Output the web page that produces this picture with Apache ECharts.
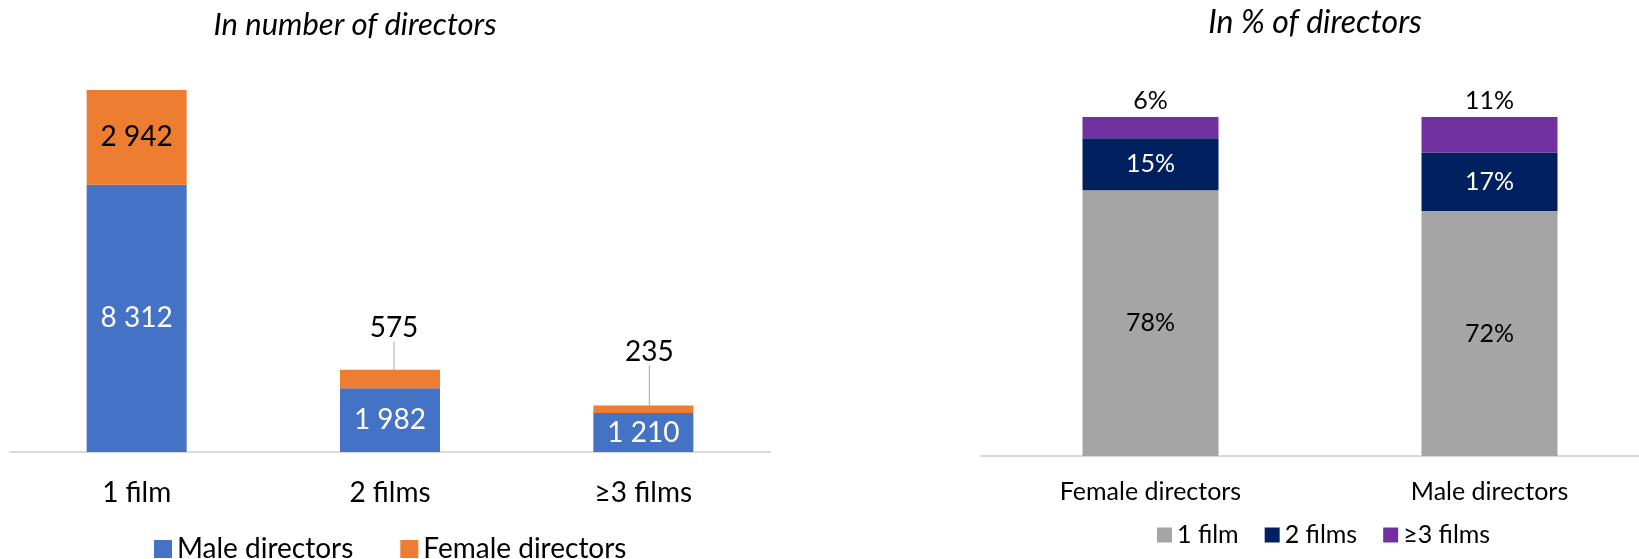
<!DOCTYPE html>
<html>
<head>
<meta charset="utf-8">
<script src="https://cdn.jsdelivr.net/npm/echarts@6/dist/echarts.min.js"></script>
<style>
  html, body { margin: 0; padding: 0; background: #fff; overflow: hidden; }
  /* a little wider than the window: the right axis runs off the edge as in the source */
  #main { width: 1660px; height: 559px; }
</style>
</head>
<body>
<div id="main"></div>
<script>
// left panel: number of directors
const countCategories = ["1 film", "2 films", "≥3 films"];
const maleCounts = [8312, 1982, 1210];
const femaleCounts = [2942, 575, 235];

// right panel: share of directors (%)
const shareCategories = ["Female directors", "Male directors"];
const share1Film = [78.4, 72.3];
const share2Films = [15.3, 17.2];
const share3Films = [6.3, 10.5];

const FONT = "Lato, 'Noto Sans', sans-serif";

// 8312 -> "8 312"
function spaced(v) {
  return String(v).replace(/\B(?=(\d{3})+(?!\d))/g, " ");
}
function pct(p) {
  return Math.round(p.value) + "%";
}

const chart = echarts.init(document.getElementById("main"));
chart.setOption({
  animation: false,
  title: [
    {
      text: "In number of directors",
      left: 350,
      top: 4,
      textAlign: "center",
      textStyle: { fontFamily: FONT, fontStyle: "italic", fontWeight: "normal", fontSize: 31, color: "#000" },
    },
    {
      text: "In % of directors",
      left: 1310,
      top: 2,
      textAlign: "center",
      textStyle: { fontFamily: FONT, fontStyle: "italic", fontWeight: "normal", fontSize: 32, color: "#000" },
    },
  ],
  legend: [
    {
      data: ["Male directors", "Female directors"],
      left: 149,
      top: 529,
      icon: "rect",
      itemWidth: 18,
      itemHeight: 18,
      itemGap: 47,
      textStyle: { fontFamily: FONT, fontSize: 28, color: "#000", lineHeight: 30 },
    },
    {
      data: ["1 film", "2 films", "≥3 films"],
      left: 1152,
      top: 517,
      icon: "rect",
      itemWidth: 15,
      itemHeight: 15,
      itemGap: 26,
      textStyle: { fontFamily: FONT, fontSize: 25, color: "#000", lineHeight: 26 },
    },
  ],
  grid: [
    { left: 10, width: 760, top: 66, bottom: 107 },
    { left: 981, width: 678, top: 117, bottom: 103 },
  ],
  xAxis: [
    {
      type: "category",
      gridIndex: 0,
      data: countCategories,
      axisTick: { show: false },
      axisLine: { lineStyle: { color: "#d9d9d9", width: 2 } },
      axisLabel: { margin: 27, fontFamily: FONT, fontSize: 28, color: "#000" },
    },
    {
      type: "category",
      gridIndex: 1,
      data: shareCategories,
      axisTick: { show: false },
      axisLine: { lineStyle: { color: "#d9d9d9", width: 2 } },
      axisLabel: { margin: 23, fontFamily: FONT, fontSize: 25, color: "#000" },
    },
  ],
  yAxis: [
    { type: "value", gridIndex: 0, min: 0, max: 12000, show: false },
    { type: "value", gridIndex: 1, min: 0, max: 100, show: false },
  ],
  series: [
    {
      name: "Male directors",
      type: "bar",
      stack: "count",
      xAxisIndex: 0,
      yAxisIndex: 0,
      barWidth: 100,
      itemStyle: { color: "#4472c4" },
      label: {
        show: true,
        position: "inside",
        formatter: (p) => spaced(p.value),
        fontFamily: FONT,
        fontSize: 28,
        color: "#fff",
      },
      data: maleCounts,
    },
    {
      name: "Female directors",
      type: "bar",
      stack: "count",
      xAxisIndex: 0,
      yAxisIndex: 0,
      barWidth: 100,
      itemStyle: { color: "#ed7d31" },
      label: {
        show: true,
        position: "inside",
        formatter: (p) => spaced(p.value),
        fontFamily: FONT,
        fontSize: 28,
        color: "#000",
      },
      labelLine: { show: true, lineStyle: { color: "#a6a6a6", width: 1 } },
      // small segments: label lifted above the bar with a leader line
      labelLayout: function (params) {
        if (params.dataIndex === 0) return {};
        const lift = params.dataIndex === 1 ? 42 : 54;
        const cy = params.labelRect.y + params.labelRect.height / 2;
        return { dx: params.dataIndex === 1 ? 4 : 6, dy: params.rect.y - lift - cy };
      },
      data: femaleCounts.map((v, i) => (i === 0 ? { value: v, labelLine: { show: false } } : v)),
    },
    {
      name: "1 film",
      type: "bar",
      stack: "share",
      xAxisIndex: 1,
      yAxisIndex: 1,
      barWidth: 136,
      itemStyle: { color: "#a5a5a5" },
      label: { show: true, position: "inside", formatter: pct, fontFamily: FONT, fontSize: 25, color: "#000" },
      data: share1Film,
    },
    {
      name: "2 films",
      type: "bar",
      stack: "share",
      xAxisIndex: 1,
      yAxisIndex: 1,
      barWidth: 136,
      itemStyle: { color: "#002060" },
      label: { show: true, position: "inside", formatter: pct, fontFamily: FONT, fontSize: 25, color: "#fff" },
      data: share2Films,
    },
    {
      name: "≥3 films",
      type: "bar",
      stack: "share",
      xAxisIndex: 1,
      yAxisIndex: 1,
      barWidth: 136,
      itemStyle: { color: "#7030a0" },
      label: { show: true, position: "top", distance: 4, formatter: pct, fontFamily: FONT, fontSize: 25, color: "#000" },
      data: share3Films,
    },
  ],
});
</script>
</body>
</html>
